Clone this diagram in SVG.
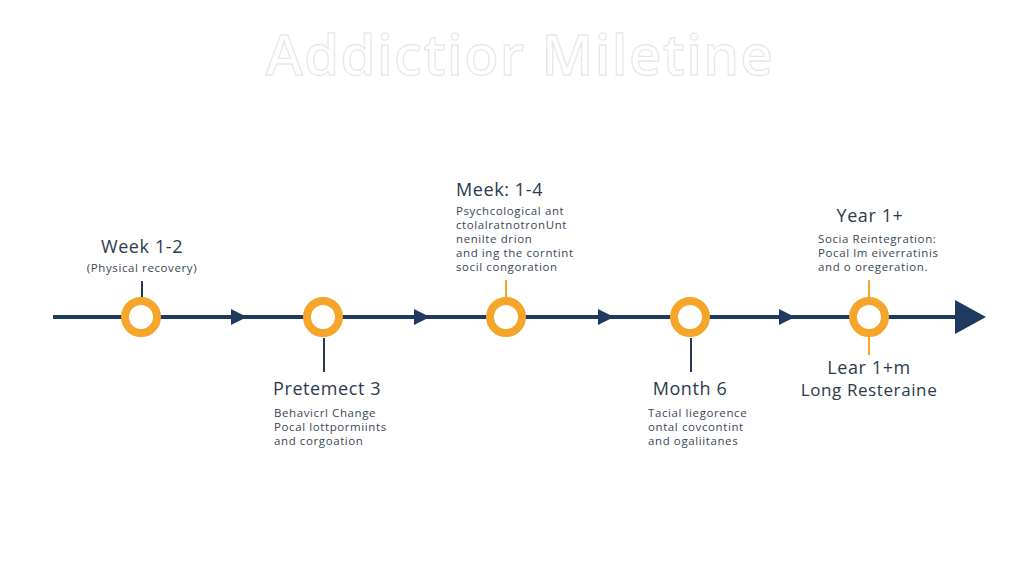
<svg xmlns="http://www.w3.org/2000/svg" width="1024" height="576" viewBox="0 0 1024 576">
<defs>
<style>
.head{font-family:"Open Sans","Liberation Sans",sans-serif;font-size:18px;letter-spacing:0.6px;fill:#2b3a4c}
.sub{font-family:"Open Sans","Liberation Sans",sans-serif;font-size:11.5px;letter-spacing:0.6px;fill:#3a4656}
.ring{fill:#ffffff;stroke:#F5A52A;stroke-width:8}
.tick{stroke:#24395a;stroke-width:2}
.otick{stroke:#F5A52A;stroke-width:2}
.line{stroke:#1f3a5f;stroke-width:4}
.tri{fill:#1f3a5f}
</style>
</defs>
<rect width="1024" height="576" fill="#ffffff"/>
<text x="520" y="75" text-anchor="middle" font-family="'Open Sans','Liberation Sans',sans-serif" font-size="56" font-weight="600" letter-spacing="1.5" fill="#ffffff" stroke="#e8e8e8" stroke-width="1.3">Addictior Miletine</text>
<g id="connectors">
<line class="line" x1="53" y1="317" x2="958" y2="317"/>
<polygon class="tri" points="231,309 247,317 231,325"/>
<polygon class="tri" points="414,309 430,317 414,325"/>
<polygon class="tri" points="598,309 614,317 598,325"/>
<polygon class="tri" points="779,309 795,317 779,325"/>
<polygon class="tri" points="955,300 986,317 955,334"/>
<line class="tick" x1="142" y1="281" x2="142" y2="297"/>
<line class="tick" x1="324" y1="338" x2="324" y2="372"/>
<line class="otick" x1="506" y1="280" x2="506" y2="297"/>
<line class="tick" x1="691" y1="338" x2="691" y2="372"/>
<line class="otick" x1="869" y1="280" x2="869" y2="297"/>
<line class="otick" x1="869" y1="337" x2="869" y2="355"/>
</g>
<g id="node1">
<circle class="ring" cx="141" cy="317" r="16"/>
<text class="head" x="142" y="253" text-anchor="middle">Week 1-2</text>
<text class="sub" x="142" y="272" text-anchor="middle">(Physical recovery)</text>
</g>
<g id="node2">
<circle class="ring" cx="323" cy="317" r="16"/>
<text class="head" x="273" y="395">Pretemect 3</text>
<text class="sub" x="274" y="417">Behavicrl Change</text>
<text class="sub" x="274" y="431">Pocal lottpormiints</text>
<text class="sub" x="274" y="445">and corgoation</text>
</g>
<g id="node3">
<circle class="ring" cx="506" cy="317" r="16"/>
<text class="head" x="456" y="196">Meek: 1-4</text>
<text class="sub" x="456" y="215">Psychcological ant</text>
<text class="sub" x="456" y="229">ctolalratnotronUnt</text>
<text class="sub" x="456" y="243">nenilte drion</text>
<text class="sub" x="456" y="257">and ing the corntint</text>
<text class="sub" x="456" y="271">socil congoration</text>
</g>
<g id="node4">
<circle class="ring" cx="690" cy="317" r="16"/>
<text class="head" x="690" y="395" text-anchor="middle">Month 6</text>
<text class="sub" x="648" y="417">Tacial liegorence</text>
<text class="sub" x="648" y="431">ontal covcontint</text>
<text class="sub" x="648" y="445">and ogaliitanes</text>
</g>
<g id="node5">
<circle class="ring" cx="869" cy="317" r="16"/>
<text class="head" x="870" y="222" text-anchor="middle">Year 1+</text>
<text class="sub" x="818" y="243">Socia Reintegration:</text>
<text class="sub" x="818" y="257">Pocal lm eiverratinis</text>
<text class="sub" x="818" y="271">and o oregeration.</text>
<text class="head" x="869" y="374" text-anchor="middle">Lear 1+m</text>
<text class="head" x="869" y="396" text-anchor="middle" style="font-size:17px">Long Resteraine</text>
</g>
</svg>
